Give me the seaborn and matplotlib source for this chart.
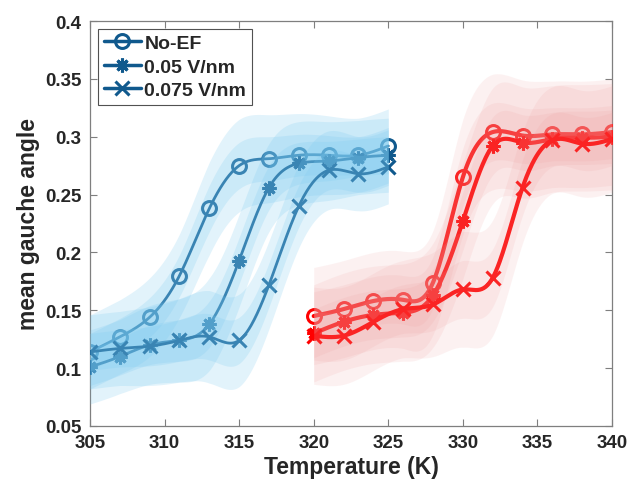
import matplotlib
matplotlib.use("Agg")
import matplotlib.pyplot as plt
from matplotlib.lines import Line2D
import numpy as np
import seaborn as sns

# temperatures of the two heating runs
temp_low = [305, 307, 309, 311, 313, 315, 317, 319, 321, 323, 325]
temp_high = [320, 322, 324, 326, 328, 330, 332, 334, 336, 338, 340]

labels = ["No-EF", "0.05 V/nm", "0.075 V/nm"]

low_noef = [0.114, 0.127, 0.144, 0.180, 0.238, 0.275, 0.281, 0.284, 0.284, 0.284, 0.292]
low_e005 = [0.101, 0.110, 0.120, 0.124, 0.138, 0.193, 0.256, 0.277, 0.279, 0.282, 0.284]
low_e0075 = [0.114, 0.117, 0.119, 0.124, 0.127, 0.124, 0.172, 0.240, 0.271, 0.268, 0.274]

high_noef = [0.145, 0.151, 0.158, 0.159, 0.174, 0.265, 0.304, 0.301, 0.302, 0.302, 0.304]
high_e005 = [0.130, 0.140, 0.146, 0.148, 0.163, 0.227, 0.292, 0.295, 0.298, 0.299, 0.300]
high_e0075 = [0.128, 0.128, 0.140, 0.151, 0.155, 0.168, 0.178, 0.256, 0.297, 0.294, 0.298]

# half-width of the fluctuation cloud around each run
spread_low = [0.032, 0.032, 0.034, 0.036, 0.040, 0.040, 0.038, 0.036, 0.034, 0.032, 0.032]
spread_high = [0.042, 0.042, 0.042, 0.042, 0.045, 0.050, 0.050, 0.048, 0.046, 0.046, 0.046]

markers = ["o", (8, 2, 0), "x"]
blue = "#10598d"
blue_fill = "#7ccaf0"
red = "#ff0000"
red_fill = "#ee9a9a"


def spline(x, y, n=30):
    # natural cubic spline, only used to draw the smooth connecting curve
    x = np.asarray(x, float)
    y = np.asarray(y, float)
    k = len(x)
    h = np.diff(x)
    A = np.zeros((k, k))
    b = np.zeros(k)
    A[0, 0] = A[-1, -1] = 1
    for i in range(1, k - 1):
        A[i, i - 1] = h[i - 1]
        A[i, i] = 2 * (h[i - 1] + h[i])
        A[i, i + 1] = h[i]
        b[i] = 6 * ((y[i + 1] - y[i]) / h[i] - (y[i] - y[i - 1]) / h[i - 1])
    M = np.linalg.solve(A, b)
    xs, ys = [], []
    for i in range(k - 1):
        t = np.linspace(x[i], x[i + 1], n, endpoint=(i == k - 2))
        a = x[i + 1] - t
        c = t - x[i]
        s = (M[i] * a**3 + M[i + 1] * c**3) / (6 * h[i]) \
            + (y[i] / h[i] - M[i] * h[i] / 6) * a \
            + (y[i + 1] / h[i] - M[i + 1] * h[i] / 6) * c
        xs.append(t)
        ys.append(s)
    return np.concatenate(xs), np.concatenate(ys)


sns.set_theme(style="ticks")
plt.rcParams["font.family"] = ["Liberation Sans", "DejaVu Sans"]
plt.rcParams["font.weight"] = "bold"

fig = plt.figure(figsize=(6.33, 4.89), dpi=100)
ax = fig.add_axes([0.1422, 0.1268, 0.8246, 0.8282])

groups = [
    (temp_low, [low_noef, low_e005, low_e0075], spread_low, blue, blue_fill, 2.0, 0.22),
    (temp_high, [high_noef, high_e005, high_e0075], spread_high, red, red_fill, 3.0, 0.13),
]

z = 2
for temps, series, spread, col, fcol, lw, alpha in groups:
    for vals, mk in zip(series, markers):
        sx, sy = spline(temps, vals)
        sns.lineplot(x=sx, y=sy, ax=ax, color=col, linewidth=lw, sort=False,
                     zorder=z)
        ax.plot(temps, vals, linestyle="none", marker=mk, markersize=10,
                markeredgewidth=2.2, markerfacecolor="none",
                markeredgecolor=col, zorder=z)
        z += 1
        half = np.interp(sx, temps, spread)
        # outer faint cloud and denser core
        ax.fill_between(sx, sy - half, sy + half, color=fcol, alpha=alpha,
                        linewidth=0, zorder=z)
        ax.fill_between(sx, sy - 0.5 * half, sy + 0.5 * half, color=fcol,
                        alpha=alpha, linewidth=0, zorder=z)
        z += 1

ax.set_xlim(305, 340)
ax.set_ylim(0.05, 0.4)
ax.set_xticks([305, 310, 315, 320, 325, 330, 335, 340])
ax.set_yticks([0.05, 0.1, 0.15, 0.2, 0.25, 0.3, 0.35, 0.4])
ax.set_yticklabels(["0.05", "0.1", "0.15", "0.2", "0.25", "0.3", "0.35", "0.4"])
ax.tick_params(direction="in", length=5, width=0.8, color="#7f7f7f",
               labelsize=13.5, labelcolor="#262626", top=True, right=True,
               pad=6)
for sp in ax.spines.values():
    sp.set_color("#7f7f7f")
    sp.set_linewidth(0.9)
ax.set_xlabel("Temperature (K)", fontsize=16.5, fontweight="bold",
              color="#262626", labelpad=3)
ax.set_ylabel("mean gauche angle", fontsize=16.5, fontweight="bold",
              color="#262626", labelpad=4)

handles = [Line2D([], [], color=blue, linewidth=2.5, marker=mk, markersize=10,
                  markeredgewidth=2.2, markerfacecolor="none")
           for mk in markers]
leg = ax.legend(handles, labels, loc="upper left", fontsize=14,
                frameon=True, fancybox=False, edgecolor="#262626",
                handlelength=1.9, handletextpad=0.2, borderpad=0.3,
                labelspacing=0.3, borderaxespad=0.4,
                bbox_to_anchor=(0.0, 1.0))
leg.get_frame().set_linewidth(0.8)
leg.set_zorder(50)
for t in leg.get_texts():
    t.set_fontweight("bold")

fig.savefig("out.png", dpi=100)
